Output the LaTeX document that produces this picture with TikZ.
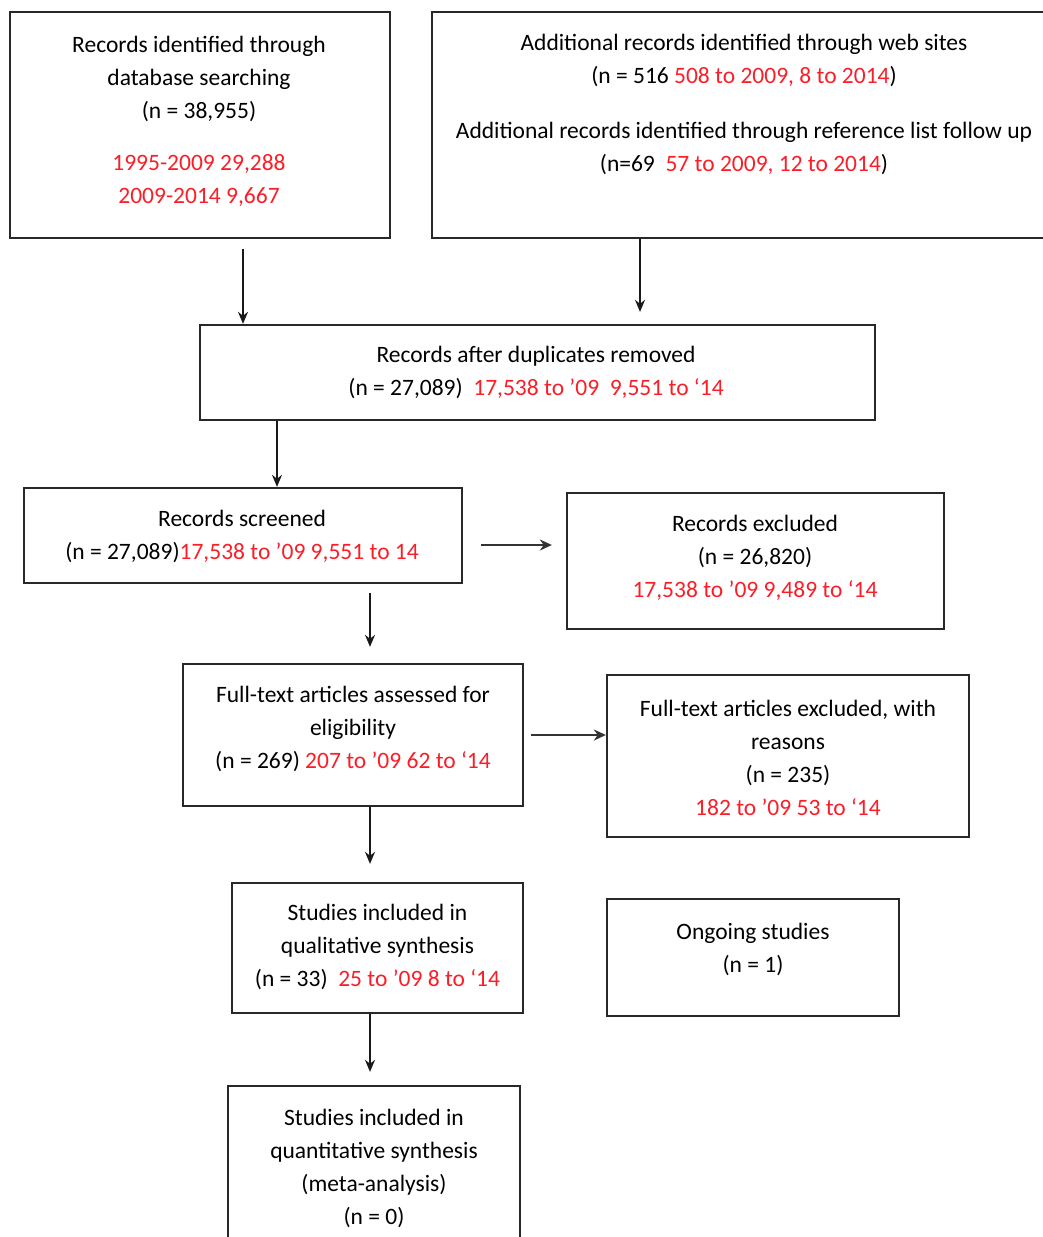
\documentclass[tikz,border=0pt]{standalone}
\usepackage{fontspec}
\setmainfont{Carlito}
\usetikzlibrary{arrows.meta,calc}
\definecolor{redtxt}{RGB}{250,30,40}
\definecolor{boxline}{RGB}{40,40,40}
\newcommand{\rd}[1]{\textcolor{redtxt}{#1}}
\tikzset{
  box/.style={draw=boxline, line width=2.3pt, rectangle, inner sep=0pt},
  txt/.style={align=center, inner sep=0pt, font=\fontsize{23.5}{33}\selectfont},
  arr/.style={draw=black!90, line width=1.6pt, -{Stealth[length=12pt,width=10pt]}},
  harr/.style={draw=black!80, line width=2.8pt, -{Stealth[length=12pt,width=11pt]}}
}
\begin{document}
\begin{tikzpicture}[x=1pt,y=-1pt]
\useasboundingbox[fill=white] (0,0) rectangle (1043,1237);
% boxes
\node[box, minimum width=380pt, minimum height=226pt] (A) at (200,125) {};
\node[box, minimum width=618pt, minimum height=226pt] (B) at (741,125) {};
\node[box, minimum width=675pt, minimum height=95pt] (C) at (537.5,372.5) {};
\node[box, minimum width=438pt, minimum height=95pt] (D) at (243,535.5) {};
\node[box, minimum width=377pt, minimum height=136pt] (E) at (755.5,561) {};
\node[box, minimum width=340pt, minimum height=142pt] (F) at (353,735) {};
\node[box, minimum width=362pt, minimum height=162pt] (G) at (788,756) {};
\node[box, minimum width=291pt, minimum height=130pt] (H) at (377.5,948) {};
\node[box, minimum width=292pt, minimum height=117pt] (I) at (753,957.5) {};
\node[box, minimum width=292pt, minimum height=160pt] (J) at (374,1166) {};
% texts
\node[txt] (tA) at (199,121) {Records identified through\\database searching\\(n = 38,955)\\[19pt]\rd{1995-2009 29,288}\\\rd{2009-2014 9,667}};
\node[txt] (tB) at (744,104) {Additional records identified through web sites\\(n = 516 \rd{508 to 2009, 8 to 2014})\\[22pt]Additional records identified through reference list follow up\\(n=69\ \ \rd{57 to 2009, 12 to 2014})};
\node[txt] (tC) at (536,372) {Records after duplicates removed\\(n = 27,089)\ \ \rd{17,538 to '09\ \ 9,551 to `14}};
\node[txt] (tD) at (242,536) {Records screened\\(n = 27,089)\rd{17,538 to '09 9,551 to 14}};
\node[txt] (tE) at (755,557.5) {Records excluded\\(n = 26,820)\\\rd{17,538 to '09 9,489 to `14}};
\node[txt] (tF) at (353,728.5) {Full-text articles assessed for\\eligibility\\(n = 269) \rd{207 to '09 62 to `14}};
\node[txt] (tG) at (788,757.5) {Full-text articles excluded, with\\reasons\\(n = 235)\\\rd{182 to '09 53 to `14}};
\node[txt] (tH) at (377.5,946.5) {Studies included in\\qualitative synthesis\\(n = 33)\ \ \rd{25 to '09 8 to `14}};
\node[txt] (tI) at (753,949) {Ongoing studies\\(n = 1)};
\node[txt] (tJ) at (374,1168) {Studies included in\\quantitative synthesis\\(meta-analysis)\\(n = 0)};
% x / y guides
\coordinate (x1) at (243,0);
\coordinate (x2) at (640,0);
\coordinate (x3) at (277,0);
\coordinate (x4) at (370,0);
\coordinate (y1) at (0,545);
\coordinate (y2) at (0,735);
% connectors
\draw[arr] ([yshift=-10pt]A.south -| x1) -- (C.north -| x1);
\draw[arr] (B.south -| x2) -- ([yshift=12pt]C.north -| x2);
\draw[arr] (C.south -| x3) -- (D.north -| x3);
\draw[harr] ([xshift=18pt]D.east |- y1) -- ([xshift=-14pt]E.west |- y1);
\draw[arr] ([yshift=-9pt]D.south -| x4) -- ([yshift=16pt]F.north -| x4);
\draw[harr] ([xshift=7pt]F.east |- y2) -- (G.west |- y2);
\draw[arr] (F.south -| x4) -- ([yshift=18pt]H.north -| x4);
\draw[arr] (H.south -| x4) -- ([yshift=13pt]J.north -| x4);
\end{tikzpicture}
\end{document}
